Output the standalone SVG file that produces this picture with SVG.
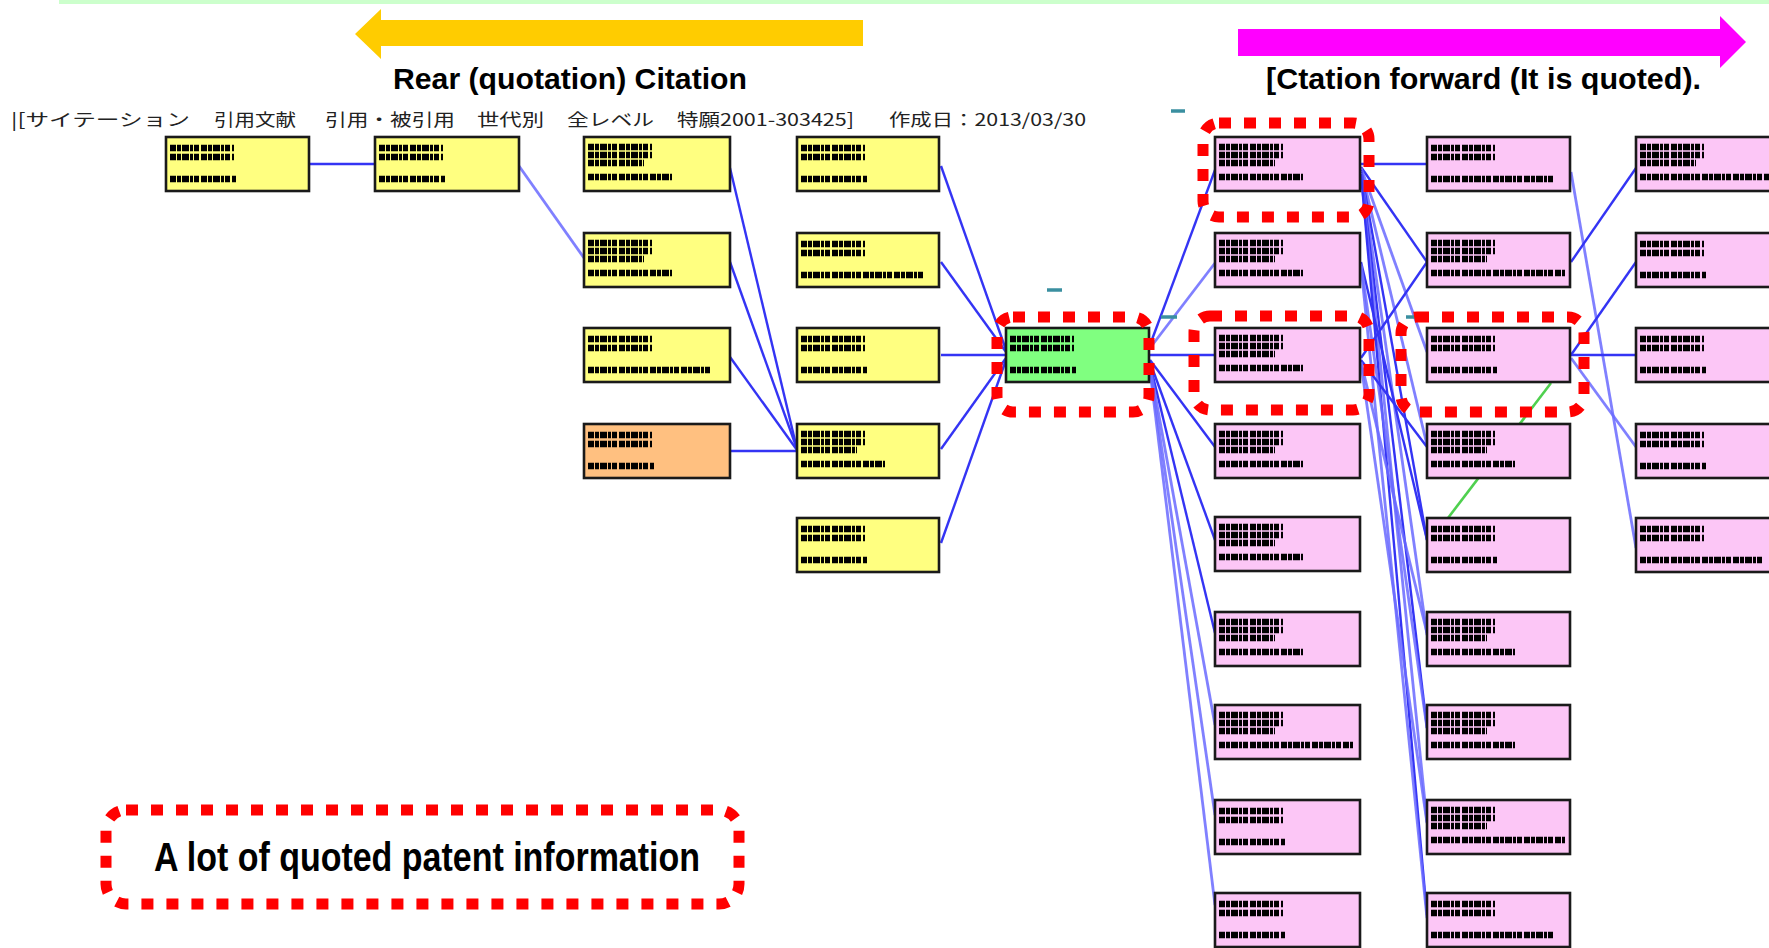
<svg xmlns="http://www.w3.org/2000/svg" xmlns:xlink="http://www.w3.org/1999/xlink" width="1769" height="948" viewBox="0 0 1769 948">
<style>
.box{stroke:#1a1a1a;stroke-width:2.6}
.y{fill:#ffff80}.p{fill:#fcc6f6}.g{fill:#80ff80}.o{fill:#ffc080}
.blob path{fill:none;stroke:#000;stroke-width:6.5;stroke-dasharray:6 1 4 1 7 1 3 1 5 2}
.e{fill:none;stroke:#3434f4;stroke-width:2.4}
.el{fill:none;stroke:#6a6aff;stroke-width:2.8;stroke-opacity:.85}
.hl{fill:none;stroke:#ff0000;stroke-width:11;stroke-dasharray:12 13}
.teal{stroke:#3a8fa0;stroke-width:3.5}
.lbl{font-family:"Liberation Sans Narrow","Liberation Sans",Arial,sans-serif;font-weight:bold;fill:#000}
.jp{font-family:"Noto Sans CJK JP","Liberation Sans",sans-serif;font-size:17px;fill:#222}
</style>
<defs>
<g id="tA" class="blob"><path d="M4 11h64M4 20h64M4 42h66"/></g>
<g id="tA2" class="blob"><path d="M4 11h64M4 20h64M4 42h124"/></g>
<g id="tC" class="blob"><path d="M4 10h64M4 18h64M4 26h56M4 40h84"/></g>
<g id="tC2" class="blob"><path d="M4 10h64M4 18h64M4 26h56M4 40h134"/></g>
</defs>
<rect width="1769" height="948" fill="#ffffff"/>
<rect x="59" y="0" width="1710" height="4" fill="#ccffcc"/>

<g id="arrow-back">
<polygon points="355,34 381,9 381,20 863,20 863,46 381,46 381,59" fill="#ffcc00"/>
</g>
<g id="arrow-forward">
<polygon points="1238,29 1720,29 1720,16 1746,42 1720,68 1720,56 1238,56" fill="#ff00ff"/>
</g>
<text class="lbl" x="393" y="89" font-size="30" textLength="354" lengthAdjust="spacingAndGlyphs">Rear (quotation) Citation</text>
<text class="lbl" x="1266" y="89" font-size="30" textLength="435" lengthAdjust="spacingAndGlyphs">[Ctation forward (It is quoted).</text>

<g id="header">
<text class="jp" x="11" y="126" textLength="179" lengthAdjust="spacingAndGlyphs">|[サイテーション</text>
<text class="jp" x="214" y="126" textLength="82" lengthAdjust="spacingAndGlyphs">引用文献</text>
<text class="jp" x="325" y="126" textLength="130" lengthAdjust="spacingAndGlyphs">引用・被引用</text>
<text class="jp" x="477" y="126" textLength="67" lengthAdjust="spacingAndGlyphs">世代別</text>
<text class="jp" x="567" y="126" textLength="87" lengthAdjust="spacingAndGlyphs">全レベル</text>
<text class="jp" x="677" y="126" textLength="177" lengthAdjust="spacingAndGlyphs">特願2001-303425]</text>
<text class="jp" x="889" y="126" textLength="197" lengthAdjust="spacingAndGlyphs">作成日：2013/03/30</text>
</g>

<g id="connectors">
<path class="e" d="M310 164H375"/>
<path class="el" d="M519 166L584 258"/>
<path class="e" d="M730 168L797 449"/>
<path class="e" d="M730 262L797 449"/>
<path class="e" d="M730 357L797 450"/>
<path class="e" d="M730 451H797"/>
<path class="e" d="M941 166L1006 350"/>
<path class="e" d="M941 262L1006 352"/>
<path class="e" d="M941 355H1006"/>
<path class="e" d="M941 449L1006 358"/>
<path class="e" d="M941 543L1006 360"/>
<path class="e" d="M1150 345L1215 170"/>
<path class="el" d="M1150 348L1215 263"/>
<path class="e" d="M1150 355H1215"/>
<path class="e" d="M1150 360L1215 447"/>
<path class="e" d="M1150 362L1215 540"/>
<path class="e" d="M1150 364L1215 633"/>
<path class="el" d="M1150 366L1215 725"/>
<path class="el" d="M1150 368L1215 815"/>
<path class="el" d="M1150 370L1215 905"/>
<path class="e" d="M1360 164H1427"/>
<path class="e" d="M1361 167L1427 262"/>
<path class="el" d="M1361 168L1427 352"/>
<path class="el" d="M1361 169L1427 445"/>
<path class="e" d="M1361 170L1427 540"/>
<path class="el" d="M1361 171L1427 635"/>
<path class="e" d="M1361 172L1427 728"/>
<path class="el" d="M1361 173L1427 822"/>
<path class="e" d="M1361 174L1427 915"/>
<path class="e" d="M1361 262L1427 540"/>
<path class="el" d="M1361 264L1427 728"/>
<path class="el" d="M1361 266L1427 918"/>
<path class="e" d="M1361 358L1427 262"/>
<path class="e" d="M1361 360L1427 447"/>
<path class="el" d="M1361 362L1427 633"/>
<path class="el" d="M1361 364L1427 823"/>
<path class="el" d="M1571 172L1636 548"/>
<path class="e" d="M1571 262L1636 168"/>
<path class="e" d="M1571 355L1636 262"/>
<path class="e" d="M1571 355H1636"/>
<path class="el" d="M1571 358L1636 447"/>
<path d="M1551 383L1448 518" fill="none" stroke="#4fd04f" stroke-width="2.6"/>
</g>

<g id="nodes">
<g id="n-c1r1"><rect class="box y" x="166" y="137" width="143" height="54"/><use href="#tA" x="166" y="137"/></g>
<g id="n-c2r1"><rect class="box y" x="375" y="137" width="144" height="54"/><use href="#tA" x="375" y="137"/></g>
<g id="n-c3r1"><rect class="box y" x="584" y="137" width="146" height="54"/><use href="#tC" x="584" y="137"/></g>
<g id="n-c3r2"><rect class="box y" x="584" y="233" width="146" height="54"/><use href="#tC" x="584" y="233"/></g>
<g id="n-c3r3"><rect class="box y" x="584" y="328" width="146" height="54"/><use href="#tA2" x="584" y="328"/></g>
<g id="n-c3r4"><rect class="box o" x="584" y="424" width="146" height="54"/><use href="#tA" x="584" y="424"/></g>
<g id="n-c4r1"><rect class="box y" x="797" y="137" width="142" height="54"/><use href="#tA" x="797" y="137"/></g>
<g id="n-c4r2"><rect class="box y" x="797" y="233" width="142" height="54"/><use href="#tA2" x="797" y="233"/></g>
<g id="n-c4r3"><rect class="box y" x="797" y="328" width="142" height="54"/><use href="#tA" x="797" y="328"/></g>
<g id="n-c4r4"><rect class="box y" x="797" y="424" width="142" height="54"/><use href="#tC" x="797" y="424"/></g>
<g id="n-c4r5"><rect class="box y" x="797" y="518" width="142" height="54"/><use href="#tA" x="797" y="518"/></g>
<g id="n-c5r3"><rect class="box g" x="1006" y="328" width="143" height="54"/><use href="#tA" x="1006" y="328"/></g>
<g id="n-c6r1"><rect class="box p" x="1215" y="137" width="145" height="54"/><use href="#tC" x="1215" y="137"/></g>
<g id="n-c6r2"><rect class="box p" x="1215" y="233" width="145" height="54"/><use href="#tC" x="1215" y="233"/></g>
<g id="n-c6r3"><rect class="box p" x="1215" y="328" width="145" height="54"/><use href="#tC" x="1215" y="328"/></g>
<g id="n-c6r4"><rect class="box p" x="1215" y="424" width="145" height="54"/><use href="#tC" x="1215" y="424"/></g>
<g id="n-c6r5"><rect class="box p" x="1215" y="517" width="145" height="54"/><use href="#tC" x="1215" y="517"/></g>
<g id="n-c6r6"><rect class="box p" x="1215" y="612" width="145" height="54"/><use href="#tC" x="1215" y="612"/></g>
<g id="n-c6r7"><rect class="box p" x="1215" y="705" width="145" height="54"/><use href="#tC2" x="1215" y="705"/></g>
<g id="n-c6r8"><rect class="box p" x="1215" y="800" width="145" height="54"/><use href="#tA" x="1215" y="800"/></g>
<g id="n-c6r9"><rect class="box p" x="1215" y="893" width="145" height="54"/><use href="#tA" x="1215" y="893"/></g>
<g id="n-c7r1"><rect class="box p" x="1427" y="137" width="143" height="54"/><use href="#tA2" x="1427" y="137"/></g>
<g id="n-c7r2"><rect class="box p" x="1427" y="233" width="143" height="54"/><use href="#tC2" x="1427" y="233"/></g>
<g id="n-c7r3"><rect class="box p" x="1427" y="328" width="143" height="54"/><use href="#tA" x="1427" y="328"/></g>
<g id="n-c7r4"><rect class="box p" x="1427" y="424" width="143" height="54"/><use href="#tC" x="1427" y="424"/></g>
<g id="n-c7r5"><rect class="box p" x="1427" y="518" width="143" height="54"/><use href="#tA" x="1427" y="518"/></g>
<g id="n-c7r6"><rect class="box p" x="1427" y="612" width="143" height="54"/><use href="#tC" x="1427" y="612"/></g>
<g id="n-c7r7"><rect class="box p" x="1427" y="705" width="143" height="54"/><use href="#tC" x="1427" y="705"/></g>
<g id="n-c7r8"><rect class="box p" x="1427" y="800" width="143" height="54"/><use href="#tC2" x="1427" y="800"/></g>
<g id="n-c7r9"><rect class="box p" x="1427" y="893" width="143" height="54"/><use href="#tA2" x="1427" y="893"/></g>
<g id="n-c8r1"><rect class="box p" x="1636" y="137" width="150" height="54"/><use href="#tC2" x="1636" y="137"/></g>
<g id="n-c8r2"><rect class="box p" x="1636" y="233" width="150" height="54"/><use href="#tA" x="1636" y="233"/></g>
<g id="n-c8r3"><rect class="box p" x="1636" y="328" width="150" height="54"/><use href="#tA" x="1636" y="328"/></g>
<g id="n-c8r4"><rect class="box p" x="1636" y="424" width="150" height="54"/><use href="#tA" x="1636" y="424"/></g>
<g id="n-c8r5"><rect class="box p" x="1636" y="518" width="150" height="54"/><use href="#tA2" x="1636" y="518"/></g>
</g>

<g id="marks">
<line class="teal" x1="1171" y1="111" x2="1185" y2="111"/>
<line class="teal" x1="1047" y1="290" x2="1062" y2="290"/>
<line class="teal" x1="1161" y1="317" x2="1177" y2="317"/>
<line class="teal" x1="1406" y1="317" x2="1421" y2="317"/>
</g>

<g id="highlights">
<rect class="hl" x="1203" y="123" width="166" height="94" rx="16"/>
<rect class="hl" x="997" y="317" width="152" height="95" rx="16"/>
<rect class="hl" x="1194" y="316" width="175" height="94" rx="16"/>
<rect class="hl" x="1401" y="317" width="183" height="95" rx="16"/>
<rect class="hl" x="106" y="810" width="633" height="94" rx="20"/>
<text class="lbl" x="154" y="871" font-size="40" textLength="546" lengthAdjust="spacingAndGlyphs">A lot of quoted patent information</text>
</g>
</svg>
